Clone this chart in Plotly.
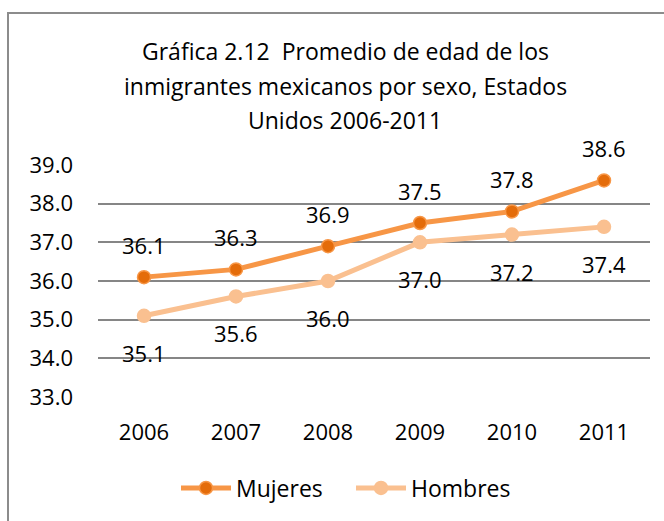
import plotly.graph_objects as go

# Average age of Mexican immigrants in the US, by sex
years = ["2006", "2007", "2008", "2009", "2010", "2011"]
mujeres = [36.1, 36.3, 36.9, 37.5, 37.8, 38.6]
hombres = [35.1, 35.6, 36.0, 37.0, 37.2, 37.4]
y_ticks = [33.0, 34.0, 35.0, 36.0, 37.0, 38.0, 39.0]
title_lines = [
    "Gráfica 2.12  Promedio de edad de los",
    "inmigrantes mexicanos por sexo, Estados",
    "Unidos 2006-2011",
]

FONT = "Open Sans"
W, H = 664, 521
ML, MR, MT, MB = 98, 14, 165, 124

fig = go.Figure()
fig.add_trace(go.Scatter(
    x=years, y=mujeres, name="Mujeres", mode="lines+markers",
    line=dict(color="#F79646", width=5),
    marker=dict(color="#E46C0A", size=13, line=dict(color="#F79646", width=1.5)),
    cliponaxis=False,
))
fig.add_trace(go.Scatter(
    x=years, y=hombres, name="Hombres", mode="lines+markers",
    line=dict(color="#FAC090", width=5),
    marker=dict(color="#FAC090", size=13, line=dict(color="#FAC090", width=1.5)),
    cliponaxis=False,
))

# value labels: above for Mujeres, below for Hombres
# (category positions given by index so the year strings are not read as numbers)
for i, yv in enumerate(mujeres):
    fig.add_annotation(x=i, y=yv, xref="x", yref="y", text=f"{yv:.1f}",
                       showarrow=False, yshift=32,
                       font=dict(family=FONT, size=22, color="#000000"))
for i, yv in enumerate(hombres):
    fig.add_annotation(x=i, y=yv, xref="x", yref="y", text=f"{yv:.1f}",
                       showarrow=False, yshift=-37,
                       font=dict(family=FONT, size=22, color="#000000"))

pw = W - ML - MR
ph = H - MT - MB


def px_x(px):
    return (px - ML) / pw


def px_y(py):
    return 1 + (MT - py) / ph


# chart frame
fig.add_shape(type="rect", xref="paper", yref="paper",
              x0=px_x(8), x1=1.2, y0=-1.0, y1=px_y(13),
              line=dict(color="#8C8C8C", width=2), fillcolor="rgba(0,0,0,0)")

# three-line title, one annotation per line for wider leading
for k, line in enumerate(title_lines):
    fig.add_annotation(
        xref="paper", yref="paper", x=px_x(345), y=px_y(51 + 34.5 * k),
        text=line, showarrow=False, xanchor="center", yanchor="middle",
        font=dict(family=FONT, size=23, color="#000000"),
    )

fig.update_layout(
    width=W, height=H,
    margin=dict(l=ML, r=MR, t=MT, b=MB),
    paper_bgcolor="white", plot_bgcolor="white",
    font=dict(family=FONT, size=22, color="#000000"),
    showlegend=True,
    legend=dict(orientation="h", x=px_x(176), xanchor="left",
                y=px_y(488), yanchor="middle",
                font=dict(family=FONT, size=23), itemwidth=50,
                entrywidth=110, entrywidthmode="pixels",
                bgcolor="rgba(0,0,0,0)"),
    xaxis=dict(type="category", range=[-0.5, 5.5], showgrid=False,
               showline=False, zeroline=False, ticks="",
               ticklabelstandoff=20),
    yaxis=dict(range=[33, 39], tickvals=y_ticks,
               ticktext=[f"{v:.1f}" for v in y_ticks],
               showgrid=True, gridcolor="#868686", gridwidth=1.5,
               zeroline=False, showline=False, ticks="",
               ticklabelstandoff=24),
)

fig.write_html("out.html")
